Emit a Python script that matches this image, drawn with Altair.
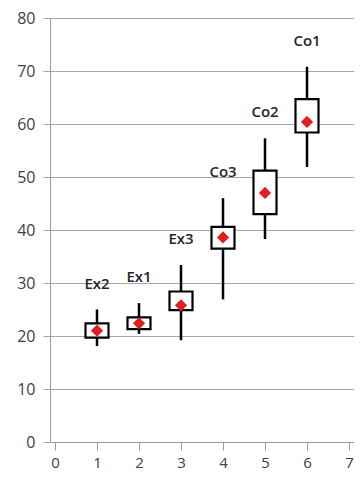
import altair as alt
import pandas as pd

xs = [1, 2, 3, 4, 5, 6]
names = ["Ex2", "Ex1", "Ex3", "Co3", "Co2", "Co1"]
lows = [18.1, 20.4, 19.2, 26.9, 38.3, 51.9]
q1s = [19.7, 21.3, 24.9, 36.5, 43.0, 58.4]
q3s = [22.4, 23.5, 28.4, 40.6, 51.2, 64.7]
highs = [25.0, 26.2, 33.4, 46.0, 57.3, 70.8]
means = [21.0, 22.4, 25.8, 38.6, 47.0, 60.4]

df = pd.DataFrame({"x": xs, "name": names, "low": lows, "q1": q1s,
                   "q3": q3s, "high": highs, "mean": means})

FONT = "Open Sans"

xscale = alt.Scale(domain=[0, 7], nice=False, zero=False)
yscale = alt.Scale(domain=[0, 80], nice=False)

xaxis = alt.Axis(values=list(range(0, 8)), grid=False, title=None, tickSize=8,
                 labelPadding=5, domainColor="#999999", tickColor="#999999",
                 labelColor="#404040", labelFontSize=15, labelFont=FONT)
yaxis = alt.Axis(values=list(range(0, 81, 10)), grid=True, gridColor="#a6a6a6",
                 title=None, tickSize=7, labelPadding=8, domainColor="#999999",
                 tickColor="#a6a6a6", labelColor="#404040", labelFontSize=16,
                 labelFont=FONT)

base = alt.Chart(df)

whisk = base.mark_rule(color="black", strokeWidth=2.5).encode(
    x=alt.X("x:Q", scale=xscale, axis=xaxis),
    y=alt.Y("low:Q", scale=yscale, axis=yaxis),
    y2="high:Q",
)

box = base.mark_bar(size=23, fill="white", stroke="black", strokeWidth=2.2).encode(
    x="x:Q",
    y="q1:Q",
    y2="q3:Q",
)

pts = base.mark_point(shape="diamond", filled=True, color="#e02020", size=150, opacity=1).encode(
    x="x:Q",
    y="mean:Q",
)

labels = base.mark_text(dy=-26, fontSize=15, font=FONT, color="#262626", fontWeight=600).encode(
    x="x:Q",
    y="high:Q",
    text="name:N",
)

chart = alt.layer(whisk, box, pts, labels).properties(
    width=304, height=424,
    autosize=alt.AutoSizeParams(type="none"),
    padding={"left": 42, "top": 10, "right": 0, "bottom": 29},
).configure_view(stroke=None).configure(background="white")

chart.save("out.html", embed_options={"renderer": "svg", "actions": False})
